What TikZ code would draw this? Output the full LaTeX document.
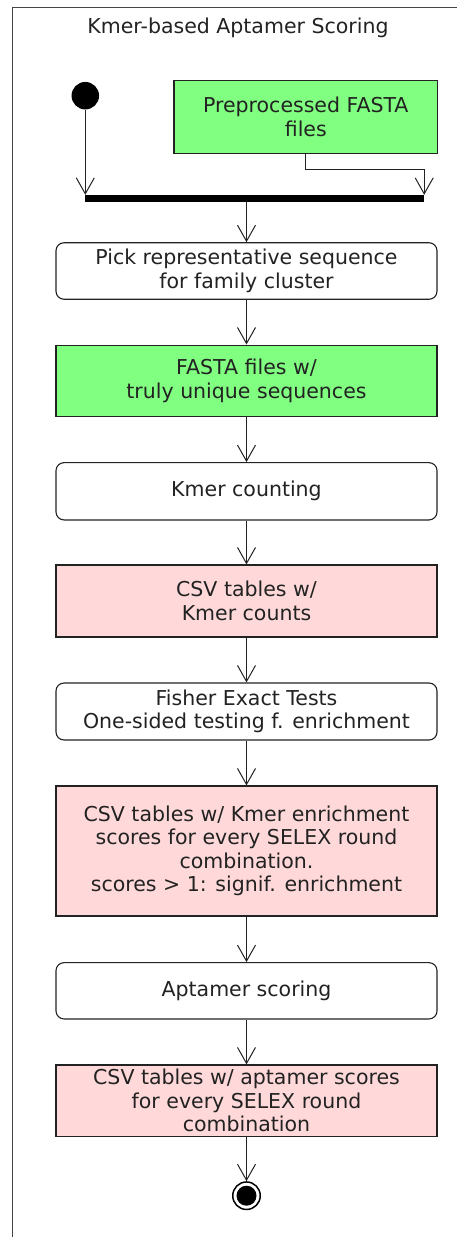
\documentclass[tikz,border=0pt]{standalone}
\usepackage{fontspec}
\setmainfont{DejaVu Sans}
\usetikzlibrary{arrows.meta,positioning}
\definecolor{inkc}{HTML}{222222}
\definecolor{framec}{HTML}{444444}
\definecolor{artgreen}{HTML}{80FF80}
\definecolor{artpink}{HTML}{FFD9D9}
\tikzset{
  x=1pt, y=-1pt,
  every node/.style={font=\fontsize{20.5}{23.5}\selectfont, text=inkc, inner sep=0pt, align=center},
  action/.style={draw=inkc, line width=1.1pt, rounded corners=8pt, fill=white,
                 minimum width=381pt, minimum height=56.5pt},
  artifact/.style={draw=inkc, line width=1.1pt, minimum width=381pt},
  flow/.style={draw=inkc, line width=1pt, -{Straight Barb[length=16pt,width=18pt,line width=1pt]}},
  link/.style={draw=inkc, line width=1pt}
}
\begin{document}
\begin{tikzpicture}
\useasboundingbox (0,0) rectangle (457,1237);
\clip (0,0) rectangle (457,1237);

% swimlane frame, open to the right and bottom
\draw[framec, line width=1.4pt] (12.7,1250) -- (12.7,7.3) -- (470,7.3);
\node[anchor=base] (title) at (238,33.3) {Kmer-based Aptamer Scoring};

% start and fork
\node[circle, fill=black, minimum size=27.5pt] (start) at (85.3,95.7) {};
\node[artifact, fill=artgreen, minimum width=263.7pt, minimum height=72.6pt] (pre) at (305.8,117) {Preprocessed FASTA\\files};
\node[fill=black, minimum width=339pt, minimum height=6.5pt] (fork) at (254.5,198.3) {};

% main column
\node[action] (pick) at (246.5,271) {Pick representative sequence\\for family cluster};
\node[artifact, fill=artgreen, minimum height=71.5pt] (uniq) at (246.5,380.8) {FASTA files w/\\truly unique sequences};
\node[action, minimum height=57.3pt] (count) at (246.5,491.3) {Kmer counting};
\node[artifact, fill=artpink, minimum height=72pt] (counts) at (246.5,601) {CSV tables w/\\Kmer counts};
\node[action, minimum height=57pt] (fisher) at (246.5,711.5) {Fisher Exact Tests\\One-sided testing f. enrichment};
\node[artifact, fill=artpink, minimum height=130pt] (enrich) at (246.5,851) {CSV tables w/ Kmer enrichment\\scores for every SELEX round\\combination.\\scores > 1: signif. enrichment};
\node[action, minimum height=56.3pt] (score) at (246.5,990.8) {Aptamer scoring};
\node[artifact, fill=artpink, minimum height=71.7pt] (aptcsv) at (246.5,1100.8) {CSV tables w/ aptamer scores\\for every SELEX round\\combination};

% final node
\node[circle, draw=black, line width=1.5pt, minimum size=27.5pt] (stop) at (246.5,1195.7) {};
\fill[black] (stop.center) circle (10pt);

% connectors
\draw[flow] (start.south) -- (start.south |- fork.north);
\draw[link] (pre.south) -- ++(0,16) coordinate (bend);
\draw[flow] (bend) -| (fork.north east);
\draw[flow] (fork.south -| pick.north) -- (pick.north);
\draw[flow] (pick.south) -- (uniq.north);
\draw[flow] (uniq.south) -- (count.north);
\draw[flow] (count.south) -- (counts.north);
\draw[flow] (counts.south) -- (fisher.north);
\draw[flow] (fisher.south) -- (enrich.north);
\draw[flow] (enrich.south) -- (score.north);
\draw[flow] (score.south) -- (aptcsv.north);
\draw[flow] (aptcsv.south) -- (stop.north);
\end{tikzpicture}
\end{document}
